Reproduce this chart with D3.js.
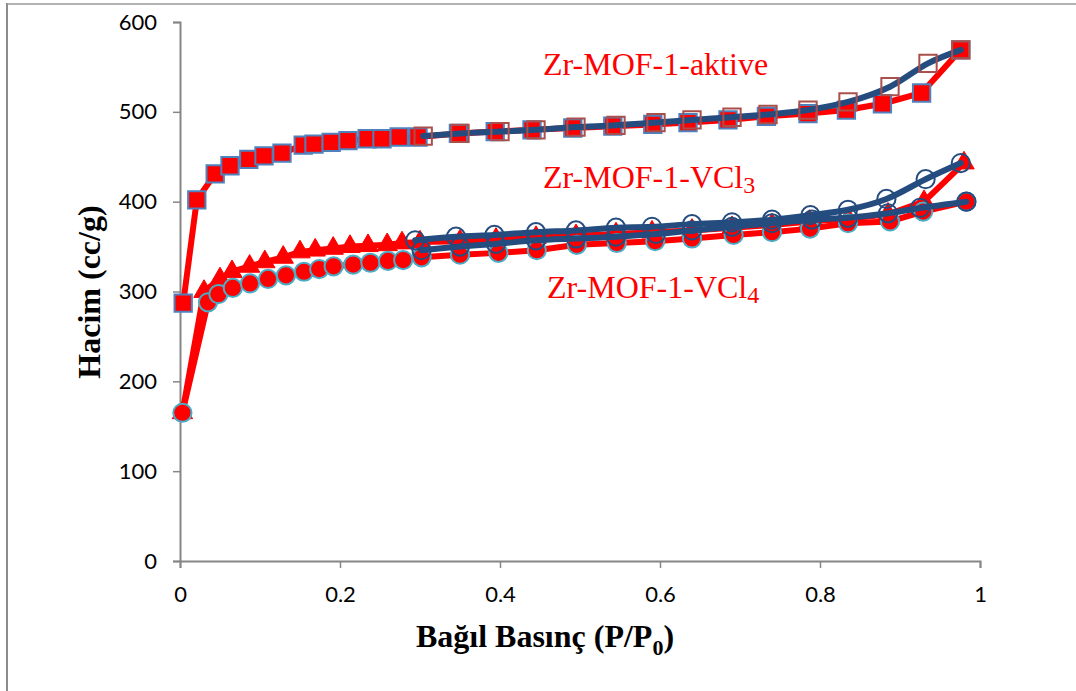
<!DOCTYPE html>
<html>
<head>
<meta charset="utf-8">
<script src="https://cdn.jsdelivr.net/npm/d3@7"></script>
<style>
  html, body { margin: 0; padding: 0; background: #fff; }
  svg { display: block; }
</style>
</head>
<body>
<svg id="chart" width="1076" height="691"></svg>
<script>
// ---------------- DATA ----------------
const xTickValues = [0, 0.2, 0.4, 0.6, 0.8, 1];
const xTickLabels = ["0", "0.2", "0.4", "0.6", "0.8", "1"];
const yTickValues = [0, 100, 200, 300, 400, 500, 600];
const yTickLabels = ["0", "100", "200", "300", "400", "500", "600"];

// Zr-MOF-1-aktive adsorption (filled squares)
const aktiveAdsP = [0.004, 0.021, 0.044, 0.0625, 0.086, 0.105, 0.1275, 0.154, 0.1675, 0.189, 0.21, 0.234, 0.2525, 0.274, 0.2975, 0.348, 0.394, 0.44, 0.491, 0.541, 0.591, 0.635, 0.685, 0.733, 0.785, 0.833, 0.878, 0.927, 0.976];
const aktiveAdsV = [287, 402, 431, 440, 447, 451, 454, 463, 464, 466, 468, 470, 470, 472, 472, 476, 478, 480, 482, 484, 486, 488, 491, 495, 498, 502, 509, 521, 569];
// Zr-MOF-1-aktive desorption (hollow squares)
const aktiveDesP = [0.976, 0.935, 0.8875, 0.835, 0.785, 0.735, 0.69, 0.64, 0.595, 0.545, 0.495, 0.445, 0.4, 0.35, 0.304];
const aktiveDesV = [569, 554, 528, 511, 502, 497, 494, 491, 488, 485, 483, 480, 478, 476, 473];

// Zr-MOF-1-VCl3 adsorption (filled triangles)
const vcl3AdsP = [0.003, 0.03, 0.05, 0.065, 0.087, 0.106, 0.129, 0.15, 0.169, 0.1915, 0.2125, 0.235, 0.259, 0.2775, 0.30, 0.35, 0.395, 0.445, 0.495, 0.545, 0.59, 0.64, 0.69, 0.74, 0.787, 0.835, 0.885, 0.93, 0.98];
const vcl3AdsV = [165, 300, 314, 322, 328, 333, 338, 344, 346, 348, 350, 351, 352, 354, 355, 356, 358, 360, 362, 364, 366, 368, 371, 374, 378, 381, 386, 400, 443];
// Zr-MOF-1-VCl3 desorption (hollow circles)
const vcl3DesP = [0.976, 0.932, 0.883, 0.835, 0.788, 0.74, 0.69, 0.64, 0.59, 0.545, 0.495, 0.445, 0.393, 0.345, 0.294];
const vcl3DesV = [443, 425, 403, 391, 385, 380, 377, 375, 372, 371, 368, 366, 363, 361, 357];

// Zr-MOF-1-VCl4 adsorption (filled circles)
const vcl4AdsP = [0.003, 0.035, 0.048, 0.066, 0.0875, 0.11, 0.1325, 0.155, 0.174, 0.192, 0.2165, 0.238, 0.26, 0.279, 0.302, 0.35, 0.398, 0.446, 0.496, 0.546, 0.594, 0.64, 0.692, 0.74, 0.7875, 0.835, 0.8875, 0.929, 0.983];
const vcl4AdsV = [165, 288, 297, 304, 309, 314, 318, 322, 325, 328, 330, 332, 334, 335, 338, 341, 343, 346, 352, 354, 356, 359, 363, 366, 370, 376, 378, 389, 400];
// Zr-MOF-1-VCl4 desorption (hollow circles)
const vcl4DesP = [0.983, 0.925, 0.885, 0.835, 0.79, 0.74, 0.69, 0.64, 0.595, 0.545, 0.495, 0.445, 0.395, 0.35, 0.302];
const vcl4DesV = [400, 393, 387, 382, 380, 376, 372, 368, 364, 361, 359, 357, 353, 350, 346];

// Labels
const seriesLabels = [
  { main: "Zr-MOF-1-aktive", sub: "" },
  { main: "Zr-MOF-1-VCl", sub: "3" },
  { main: "Zr-MOF-1-VCl", sub: "4" }
];
const xTitleMain = "Bağıl Basınç (P/P";
const xTitleSub = "0";
const xTitleEnd = ")";
const yTitle = "Hacim (cc/g)";

// ---------------- DRAW ----------------
const svg = d3.select("#chart");
svg.append("rect").attr("width", 1076).attr("height", 691).attr("fill", "#fff");

// outer frame fragments
svg.append("line").attr("x1", 7).attr("y1", 3).attr("x2", 7).attr("y2", 691)
  .attr("stroke", "#8c8c8c").attr("stroke-width", 2);
svg.append("line").attr("x1", 7).attr("y1", 4).attr("x2", 1076).attr("y2", 4)
  .attr("stroke", "#9a9a9a").attr("stroke-width", 1.5);

const x = d3.scaleLinear().domain([0, 1]).range([180, 980]);
const y = d3.scaleLinear().domain([0, 600]).range([561, 22]);

const axisColor = "#868686";
const tickFont = "Lato, 'Open Sans', sans-serif";

// Y axis
const yAxis = svg.append("g").attr("transform", "translate(180,0)")
  .call(d3.axisLeft(y).tickValues(yTickValues).tickFormat((d, i) => yTickLabels[i]).tickSize(7).tickPadding(16));
yAxis.select(".domain").attr("stroke", axisColor).attr("stroke-width", 2);
yAxis.selectAll(".tick line").attr("stroke", axisColor).attr("stroke-width", 1.5);
yAxis.selectAll(".tick text").attr("fill", "#000").style("font-family", tickFont).style("font-size", "22px");

// X axis
const xAxis = svg.append("g").attr("transform", "translate(0,561)")
  .call(d3.axisBottom(x).tickValues(xTickValues).tickFormat((d, i) => xTickLabels[i]).tickSize(7).tickPadding(18));
xAxis.select(".domain").attr("stroke", axisColor).attr("stroke-width", 2);
xAxis.selectAll(".tick line").attr("stroke", axisColor).attr("stroke-width", 1.5);
xAxis.selectAll(".tick text").attr("fill", "#000").style("font-family", tickFont).style("font-size", "22px");

function zip(ps, vs) { return ps.map((p, i) => [p, vs[i]]); }

const red = "#ff0000";
const navy = "#244c7f";

const straight = d3.line().x(d => x(d[0])).y(d => y(d[1])).curve(d3.curveLinear);
const smooth = d3.line().x(d => x(d[0])).y(d => y(d[1])).curve(d3.curveCatmullRom.alpha(0.5));

const plot = svg.append("g");

function drawLine(data, gen, color) {
  plot.append("path").datum(data).attr("d", gen).attr("fill", "none")
    .attr("stroke", color).attr("stroke-width", 6).attr("stroke-linejoin", "round").attr("stroke-linecap", "round");
}
function drawMarkers(data, type, fill, stroke, sw) {
  const sym = d3.symbol().type(type === "square" ? d3.symbolSquare : type === "triangle" ? d3.symbolTriangle : d3.symbolCircle)
    .size(type === "square" ? 300 : type === "triangle" ? 180 : 260);
  plot.append("g").selectAll("path").data(data).join("path")
    .attr("transform", d => `translate(${x(d[0])},${y(d[1])})`)
    .attr("d", sym)
    .attr("fill", fill).attr("stroke", stroke).attr("stroke-width", sw);
}

const vcl3Ads = zip(vcl3AdsP, vcl3AdsV);
const vcl4Ads = zip(vcl4AdsP, vcl4AdsV);
const aktiveAds = zip(aktiveAdsP, aktiveAdsV);
const aktiveDes = zip(aktiveDesP, aktiveDesV);
const vcl3Des = zip(vcl3DesP, vcl3DesV);
const vcl4Des = zip(vcl4DesP, vcl4DesV);

drawLine(vcl3Ads, straight, red);
drawMarkers(vcl3Ads, "triangle", red, red, 1);
drawLine(vcl4Ads, straight, red);
drawMarkers(vcl4Ads, "circle", red, "#4bacc6", 2);
drawLine(aktiveAds, straight, red);
drawMarkers(aktiveAds, "square", red, "#4f81bd", 2);

drawLine(aktiveDes, smooth, navy);
drawMarkers(aktiveDes, "square", "none", "#a9504c", 2);
drawLine(vcl3Des, smooth, navy);
drawMarkers(vcl3Des, "circle", "none", navy, 2);
drawLine(vcl4Des, smooth, navy);
drawMarkers(vcl4Des, "circle", "none", navy, 2);

// Series labels
const serif = "'Liberation Serif', 'Times New Roman', serif";
const labelPos = [[543, 75], [543, 188], [547, 298]];
seriesLabels.forEach((l, i) => {
  const t = svg.append("text").attr("x", labelPos[i][0]).attr("y", labelPos[i][1])
    .attr("fill", red).style("font-family", serif).style("font-size", "32px");
  t.append("tspan").text(l.main);
  if (l.sub) t.append("tspan").attr("dy", 5).style("font-size", "24px").text(l.sub);
});

// X title
const xt = svg.append("text").attr("x", 545).attr("y", 647).attr("text-anchor", "middle")
  .attr("fill", "#000").style("font-family", serif).style("font-size", "32px").style("font-weight", "bold");
xt.append("tspan").text(xTitleMain);
xt.append("tspan").attr("dy", 8).style("font-size", "22px").text(xTitleSub);
xt.append("tspan").attr("dy", -8).text(xTitleEnd);

// Y title
svg.append("text").attr("transform", "translate(100,292) rotate(-90)").attr("text-anchor", "middle")
  .attr("fill", "#000").style("font-family", serif).style("font-size", "32px").style("font-weight", "bold")
  .text(yTitle);
</script>
</body>
</html>
